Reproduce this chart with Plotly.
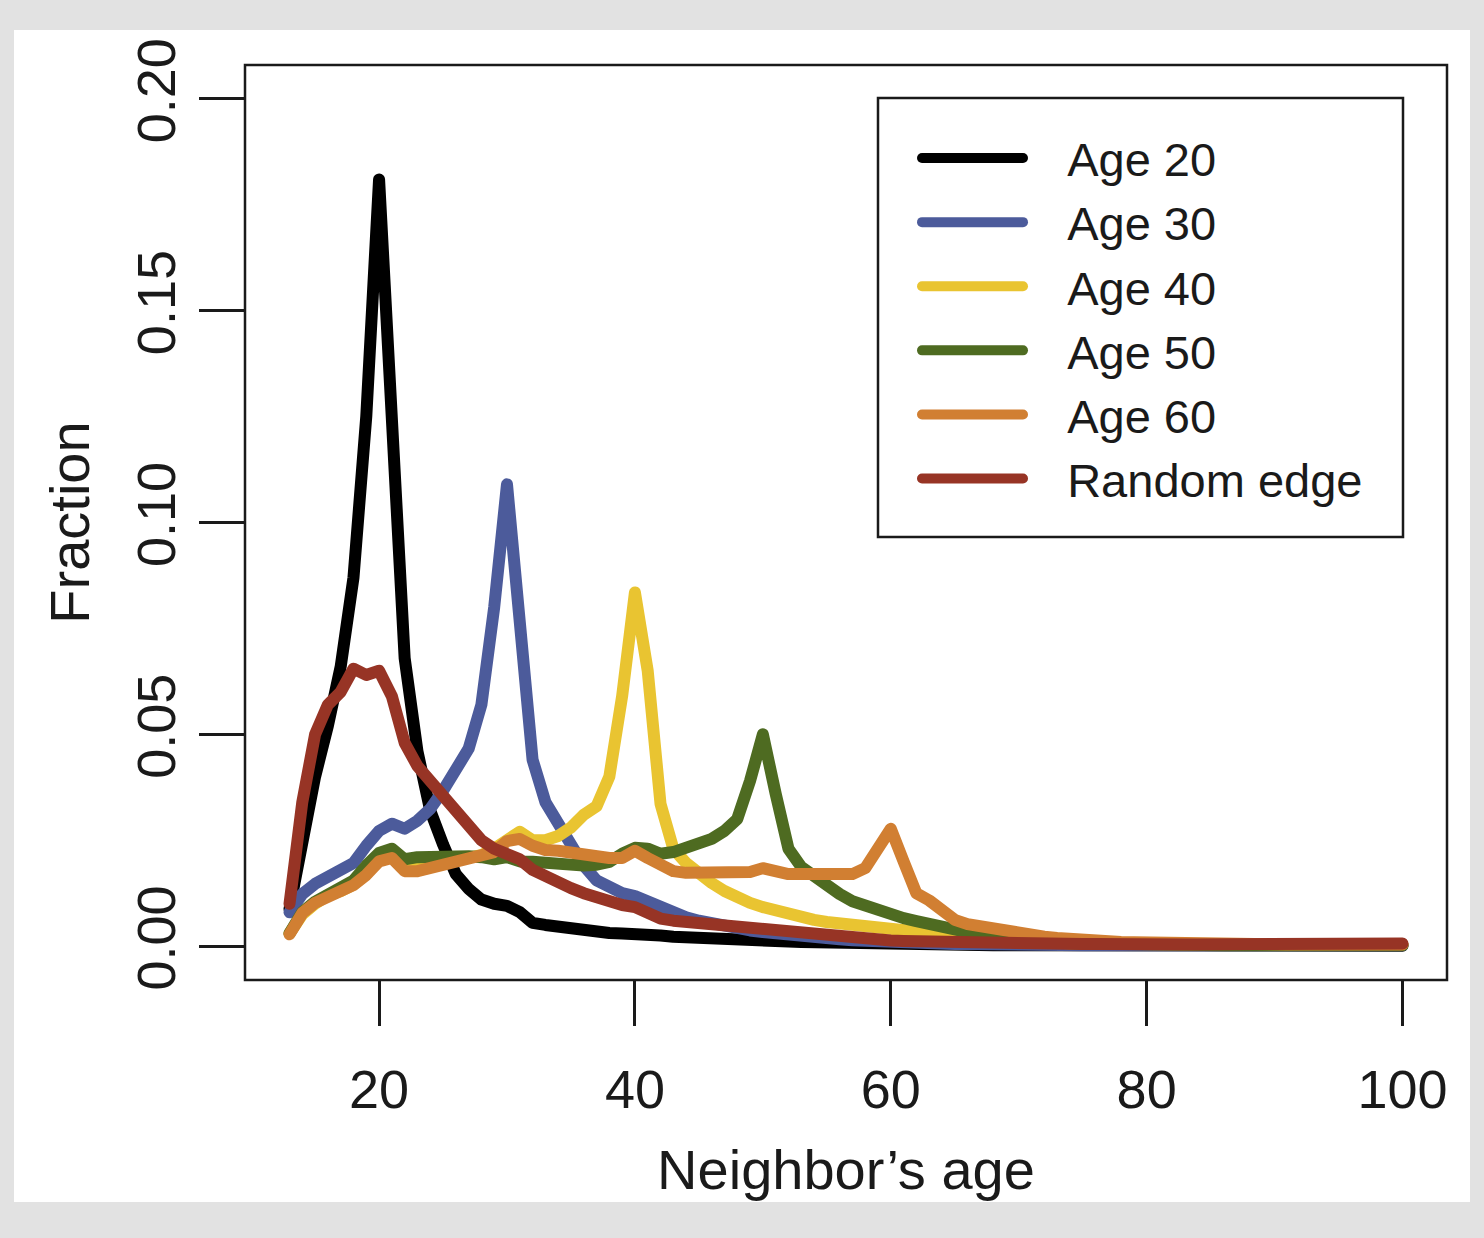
import plotly.graph_objects as go

ages = list(range(13, 101))

age20 = [0.0088, 0.025, 0.040, 0.052, 0.066, 0.087, 0.125, 0.181, 0.127, 0.068,
         0.046, 0.032, 0.024, 0.017, 0.0135, 0.011, 0.010, 0.0095, 0.008, 0.0055,
         0.005, 0.0045, 0.004, 0.0037, 0.0034, 0.0031, 0.003, 0.003, 0.0028, 0.0025,
         0.0022, 0.002, 0.0019, 0.0018, 0.0017, 0.0016, 0.0015, 0.0014, 0.0012, 0.0011,
         0.001, 0.0009, 0.0008, 0.0007, 0.0006, 0.0006, 0.0005, 0.0005, 0.0004, 0.0004,
         0.0003, 0.0003, 0.0003, 0.0002, 0.0002, 0.0002, 0.0002, 0.0002, 0.0001, 0.0001,
         0.0001, 0.0001, 0.0001, 0.0001, 0.0001, 0.0001, 0.0001, 0.0001, 0.0001, 0.0001,
         0.0001, 0.0001, 0.0001, 0.0001, 0.0001, 0.0001, 0.0001, 0.0001, 0.0001, 0.0001,
         0.0001, 0.0001, 0.0001, 0.0001, 0.0001, 0.0001, 0.0001, 0.0001]

age30 = [0.008, 0.0123, 0.0147, 0.0163, 0.0177, 0.0196, 0.0237, 0.0272, 0.0289, 0.0277,
         0.0296, 0.0324, 0.0367, 0.0414, 0.0466, 0.057, 0.080, 0.109, 0.075, 0.044,
         0.034, 0.029, 0.024, 0.019, 0.0155, 0.0137, 0.0125, 0.0118, 0.0105, 0.009,
         0.0078, 0.0068, 0.006, 0.0053, 0.0047, 0.0042, 0.0037, 0.0033, 0.0029, 0.0026,
         0.0023, 0.002, 0.0018, 0.0016, 0.0014, 0.0012, 0.0011, 0.001, 0.0009, 0.0008,
         0.0007, 0.0006, 0.0005, 0.0005, 0.0004, 0.0004, 0.0003, 0.0003, 0.0002, 0.0002,
         0.0002, 0.0002, 0.0002, 0.0002, 0.0002, 0.0002, 0.0002, 0.0002, 0.0002, 0.0002,
         0.0002, 0.0002, 0.0002, 0.0002, 0.0002, 0.0002, 0.0002, 0.0002, 0.0002, 0.0002,
         0.0002, 0.0002, 0.0002, 0.0002, 0.0002, 0.0002, 0.0002, 0.0002]

age40 = [0.003, 0.0075, 0.010, 0.012, 0.013, 0.0145, 0.017, 0.0205, 0.021, 0.0185,
         0.0185, 0.019, 0.0195, 0.020, 0.021, 0.0215, 0.023, 0.025, 0.027, 0.025,
         0.025, 0.026, 0.028, 0.031, 0.033, 0.040, 0.059, 0.0835, 0.065, 0.0336,
         0.023, 0.0196, 0.017, 0.0149, 0.013, 0.0114, 0.0102, 0.0092, 0.0083, 0.0076,
         0.0069, 0.0062, 0.0057, 0.0053, 0.005, 0.0047, 0.0043, 0.004, 0.0037, 0.0034,
         0.0031, 0.0028, 0.0025, 0.0022, 0.0019, 0.0016, 0.0014, 0.0012, 0.001, 0.0009,
         0.0008, 0.0007, 0.0006, 0.0005, 0.0005, 0.0004, 0.0004, 0.0004, 0.0003, 0.0003,
         0.0003, 0.0003, 0.0003, 0.0003, 0.0003, 0.0003, 0.0003, 0.0003, 0.0003, 0.0003,
         0.0003, 0.0003, 0.0003, 0.0003, 0.0003, 0.0003, 0.0003, 0.0003]

age50 = [0.003, 0.008, 0.0105, 0.012, 0.0135, 0.0155, 0.019, 0.022, 0.023, 0.0205,
         0.021, 0.0212, 0.0215, 0.0215, 0.0212, 0.021, 0.0205, 0.021, 0.020, 0.0199,
         0.0196, 0.0194, 0.0192, 0.019, 0.0192, 0.0199, 0.0218, 0.0232, 0.023, 0.0218,
         0.0222, 0.0232, 0.0241, 0.0253, 0.0272, 0.030, 0.039, 0.050, 0.036, 0.023,
         0.0187, 0.0163, 0.0142, 0.0123, 0.0106, 0.0095, 0.0085, 0.0076, 0.0066, 0.0059,
         0.0052, 0.0043, 0.0035, 0.003, 0.0025, 0.002, 0.0016, 0.0013, 0.0011, 0.0009,
         0.0008, 0.0007, 0.0006, 0.0005, 0.0004, 0.0004, 0.0003, 0.0003, 0.0002, 0.0002,
         0.0002, 0.0002, 0.0002, 0.0002, 0.0002, 0.0002, 0.0002, 0.0002, 0.0002, 0.0002,
         0.0002, 0.0002, 0.0002, 0.0002, 0.0002, 0.0002, 0.0002, 0.0002]

age60 = [0.0028, 0.0078, 0.0102, 0.0118, 0.013, 0.0144, 0.0168, 0.020, 0.0208, 0.0177,
         0.0177, 0.0184, 0.0196, 0.020, 0.0206, 0.021, 0.0222, 0.0248, 0.0253, 0.0237,
         0.0227, 0.0225, 0.022, 0.0213, 0.0208, 0.0208, 0.0208, 0.0225, 0.0208, 0.0196,
         0.0177, 0.0173, 0.0173, 0.017, 0.017, 0.017, 0.0175, 0.0184, 0.0175, 0.017,
         0.017, 0.017, 0.017, 0.017, 0.017, 0.0184, 0.023, 0.0277, 0.020, 0.0125,
         0.0108, 0.0085, 0.0062, 0.0052, 0.0046, 0.004, 0.0035, 0.003, 0.0026, 0.0022,
         0.0019, 0.0016, 0.0014, 0.0012, 0.0011, 0.001, 0.0009, 0.0008, 0.0007, 0.0007,
         0.0006, 0.0006, 0.0005, 0.0005, 0.0005, 0.0005, 0.0004, 0.0004, 0.0004, 0.0004,
         0.0004, 0.0004, 0.0004, 0.0004, 0.0004, 0.0004, 0.0004, 0.0004]

random_edge = [0.010, 0.034, 0.050, 0.057, 0.060, 0.0655, 0.064, 0.065, 0.059, 0.048,
               0.0425, 0.039, 0.0355, 0.032, 0.028, 0.025, 0.023, 0.0215, 0.0205, 0.018,
               0.0163, 0.015, 0.0137, 0.0125, 0.0114, 0.0104, 0.0097, 0.0092, 0.0078, 0.0065,
               0.006, 0.0057, 0.0055, 0.005, 0.0047, 0.0044, 0.004, 0.0037, 0.0034, 0.0031,
               0.0028, 0.0025, 0.0023, 0.002, 0.0018, 0.0016, 0.0014, 0.0013, 0.0012, 0.0011,
               0.001, 0.0009, 0.0008, 0.0007, 0.0007, 0.0006, 0.0006, 0.0005, 0.0005, 0.0005,
               0.0005, 0.0005, 0.0005, 0.0005, 0.0004, 0.0004, 0.0004, 0.0004, 0.0004, 0.0004,
               0.0004, 0.0004, 0.0004, 0.0007, 0.0010, 0.0008, 0.0005, 0.0004, 0.0004, 0.0004,
               0.0004, 0.0004, 0.0004, 0.0004, 0.0004, 0.0004, 0.0004, 0.0006]

series_names = ["Age 20", "Age 30", "Age 40", "Age 50", "Age 60", "Random edge"]
series_values = [age20, age30, age40, age50, age60, random_edge]
series_colors = ["#000000", "#4c5b9b", "#e9c431", "#4e6b21", "#d17f32", "#973425"]

x_ticks = [20, 40, 60, 80, 100]
y_ticks = [0.00, 0.05, 0.10, 0.15, 0.20]
y_tick_labels = ["0.00", "0.05", "0.10", "0.15", "0.20"]

FONT = "Liberation Sans, Arial, Helvetica, sans-serif"
INK = "#1a1a1a"
GAP = "\u00a0\u00a0\u00a0"

fig = go.Figure()
for name, vals, col in zip(series_names, series_values, series_colors):
    fig.add_trace(go.Scatter(x=ages, y=vals, mode="lines", name=GAP + name,
                             line=dict(color=col, width=12)))

W, H = 1484, 1238
L, R, T, B = 245, 37, 65, 258
pw, ph = W - L - R, H - T - B

def px2x(px):
    return (px - L) / pw

def py2y(py):
    return (H - B - py) / ph

shapes = [
    # slide frame
    dict(type="rect", xref="paper", yref="paper", x0=px2x(14), x1=px2x(1470),
         y0=py2y(1202), y1=py2y(30), fillcolor="white", line=dict(width=0), layer="below"),
    # plot box
    dict(type="rect", xref="paper", yref="paper", x0=0, x1=1, y0=0, y1=1,
         line=dict(color=INK, width=2.5)),
    # legend box
    dict(type="rect", xref="paper", yref="paper", x0=px2x(878), x1=px2x(1403),
         y0=py2y(537), y1=py2y(98), line=dict(color=INK, width=2.5)),
]

fig.update_layout(
    width=W, height=H,
    margin=dict(l=L, r=R, t=T, b=B),
    paper_bgcolor="#e2e2e2",
    plot_bgcolor="white",
    font=dict(family=FONT, size=46, color=INK),
    shapes=shapes,
    showlegend=True,
    legend=dict(x=px2x(917), y=py2y(121), xanchor="left", yanchor="top",
                bgcolor="rgba(0,0,0,0)", borderwidth=0,
                font=dict(family=FONT, size=47, color=INK),
                itemwidth=101, tracegroupgap=0),
    xaxis=dict(range=[9.52, 103.48], tickvals=x_ticks, ticks="outside", ticklen=45,
               tickwidth=2.5, tickcolor=INK, showgrid=False, zeroline=False,
               showline=False, ticklabelstandoff=17,
               tickfont=dict(family=FONT, size=54, color=INK),
               title=dict(text="Neighbor’s age", standoff=32,
                          font=dict(family=FONT, size=56, color=INK))),
    yaxis=dict(range=[-0.008, 0.208], tickvals=y_ticks, ticktext=y_tick_labels,
               tickangle=-90, ticks="outside", ticklen=45, tickwidth=2.5, tickcolor=INK,
               showgrid=False, zeroline=False, showline=False, ticklabelstandoff=2,
               tickfont=dict(family=FONT, size=54, color=INK),
               title=dict(text="Fraction", standoff=18,
                          font=dict(family=FONT, size=56, color=INK))),
)

post = ("var s=document.createElement('style');"
        "s.innerHTML='.js-line{stroke-linejoin:round !important;stroke-linecap:round !important;}';"
        "document.head.appendChild(s);document.body.style.margin='0';")

fig.write_html("out.html", config={"displayModeBar": False}, post_script=post)
